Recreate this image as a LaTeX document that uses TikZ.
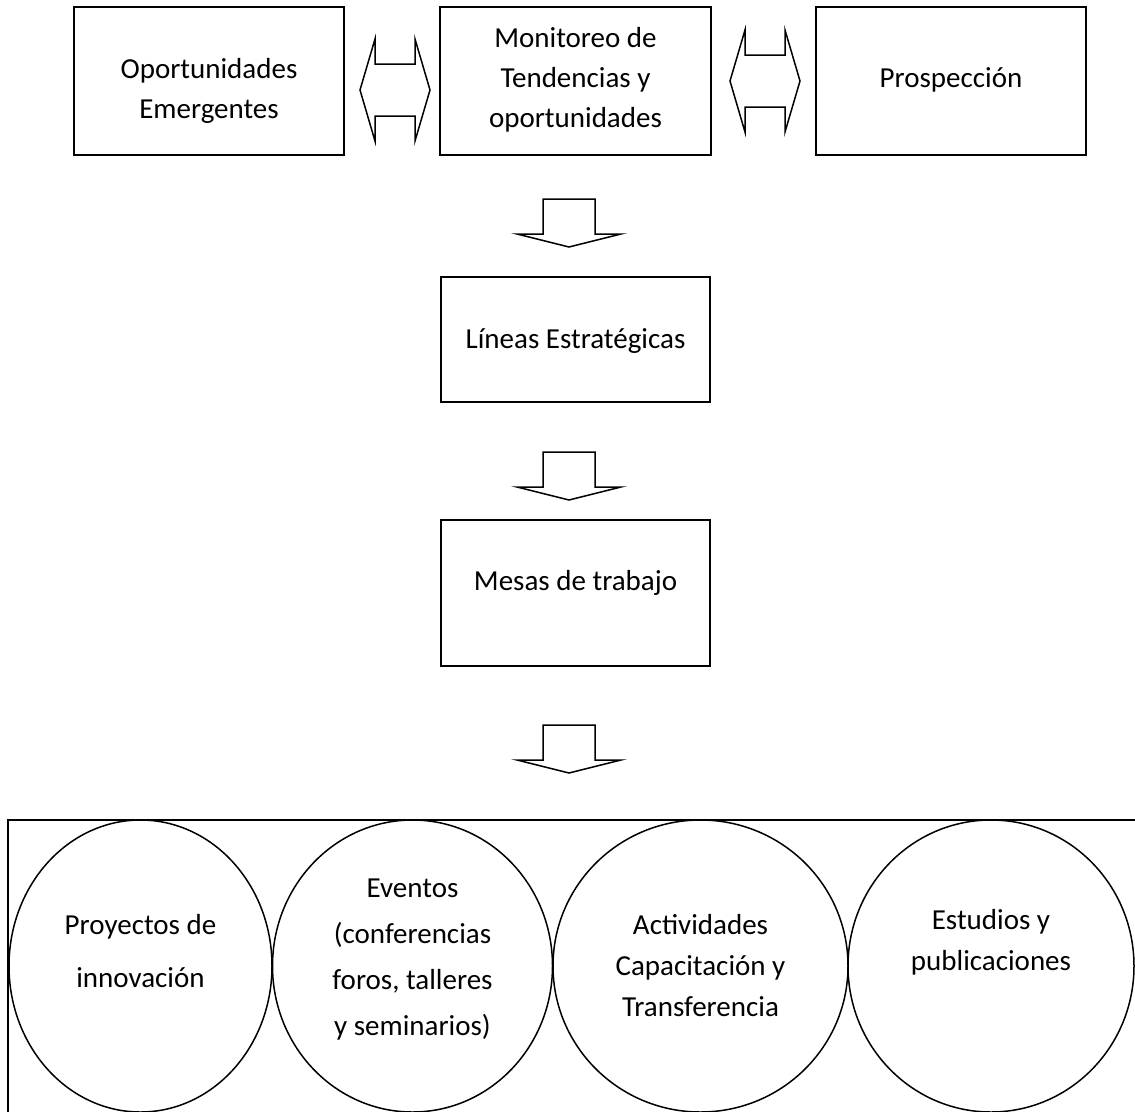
\documentclass[tikz,border=0pt]{standalone}
\usepackage{fontspec}
\setmainfont{Carlito}
\usetikzlibrary{shapes.geometric}
\tikzset{box/.style={draw,line width=1.7pt,inner sep=0pt,minimum width=270pt,minimum height=148pt},
  oval/.style={draw,ellipse,line width=1.5pt,inner sep=0pt,minimum height=292pt},
  txt/.style={align=center,inner sep=0pt,font=\fontsize{29}{40}\selectfont},
  downarrow/.pic={\draw[line width=1.5pt,line join=miter] (0,0) -- (52,-13) -- (26,-13) -- (26,-48) -- (-26,-48) -- (-26,-13) -- (-52,-13) -- cycle;},
  twoarrow/.pic={\draw[line width=1.5pt,line join=miter] (-35,0) -- (-20,-51) -- (-20,-26) -- (20,-26) -- (20,-51) -- (35,0) -- (20,51) -- (20,26) -- (-20,26) -- (-20,51) -- cycle;}}

\begin{document}
\begin{tikzpicture}[x=1pt,y=-1pt]
\useasboundingbox (0,0) rectangle (1135,1111);
\clip (0,0) rectangle (1135,1111);
% top row
\node[box] (opor) at (209,81) {};
\node[txt] (opor-t) at ([yshift=-10pt]opor.center) {Oportunidades\\Emergentes};
\node[box,minimum width=271pt] (moni) at (575.5,81) {};
\node[txt] (moni-t) at ([yshift=1pt]moni.center) {Monitoreo de\\Tendencias y\\oportunidades};
\node[box] (pros) at (951,81) {};
\node[txt] (pros-t) at ([yshift=1pt]pros.center) {Prospección};
\pic at (395,90) {twoarrow};
\pic at (765,81) {twoarrow};
% middle column
\pic at (569,247) {downarrow};
\node[box,minimum width=269pt,minimum height=125pt] (line) at (575.5,339.5) {};
\node[txt] (line-t) at ([yshift=-2pt]line.center) {Líneas Estratégicas};
\pic at (569,500) {downarrow};
\node[box,minimum width=269pt,minimum height=146pt] (mesa) at (575.5,593) {};
\node[txt] (mesa-t) at ([yshift=10pt]mesa.center) {Mesas de trabajo};
\pic at (569,773) {downarrow};
% bottom box with ovals
\draw[line width=1.7pt] (8,820) rectangle (1160,1140);
\node[oval,minimum width=263pt] (proy) at (140.5,966) {};
\node[txt,font=\fontsize{29}{53}\selectfont] (proy-t) at ([yshift=15pt]proy.center) {Proyectos de\\innovación};
\node[oval,minimum width=280pt] (even) at (412.5,966) {};
\node[txt,font=\fontsize{29}{46}\selectfont] (even-t) at ([yshift=6pt]even.center) {Eventos\\(conferencias\\foros, talleres\\y seminarios)};
\node[oval,minimum width=295pt] (acti) at (700.5,966) {};
\node[txt,font=\fontsize{29}{41}\selectfont] (acti-t) at (acti.center) {Actividades\\Capacitación y\\Transferencia};
\node[oval,minimum width=286pt] (estu) at (991,966) {};
\node[txt,font=\fontsize{29}{41}\selectfont] (estu-t) at ([yshift=24pt]estu.center) {Estudios y\\publicaciones};
\end{tikzpicture}
\end{document}
